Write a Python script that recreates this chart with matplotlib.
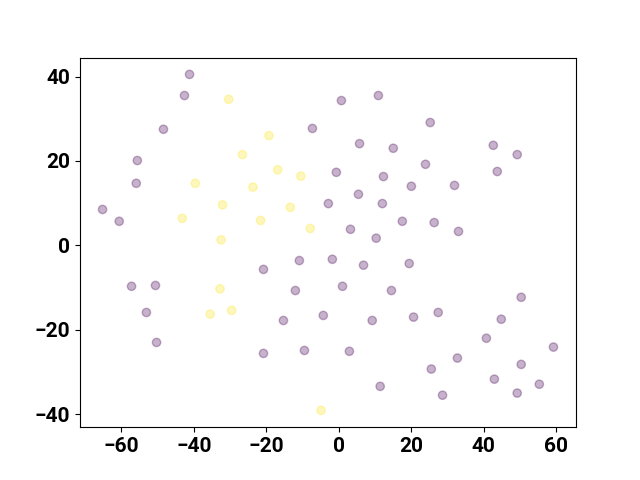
import numpy as np
import matplotlib
matplotlib.use('Agg')
import matplotlib.pyplot as plt

# cluster 0 (purple)
x0 = [-65.2, -60.6, -55.6, -55.9, -48.4, -42.6, -41.2, -57.2, -50.6, -53.1,
      -50.3, -20.8, -20.8, -15.3, -10.9, -12.0, -9.5, -4.3, -1.8, 1.0,
      2.9, -7.3, 0.7, 10.9, -2.9, -0.7, 3.2, 5.4, 5.7, 6.8,
      10.3, 12.3, 12.0, 15.0, 14.5, 9.2, 11.4, 17.5, 20.0, 19.4,
      20.6, 23.9, 25.2, 26.3, 27.4, 25.5, 28.6, 31.9, 33.0, 32.7,
      40.7, 42.6, 43.7, 44.8, 42.9, 49.2, 50.3, 50.3, 49.2, 55.3, 59.2]
y0 = [8.5, 5.7, 20.1, 14.7, 27.5, 35.5, 40.5, -9.7, -9.5, -15.9,
      -23.0, -5.7, -25.6, -17.8, -3.6, -10.7, -24.9, -16.6, -3.3, -9.7,
      -25.1, 27.7, 34.3, 35.5, 9.9, 17.3, 3.8, 12.1, 24.1, -4.7,
      1.7, 16.3, 9.9, 23.0, -10.7, -17.8, -33.4, 5.7, 14.0, -4.3,
      -17.0, 19.2, 29.1, 5.4, -15.9, -29.3, -35.5, 14.2, 3.3, -26.7,
      -22.0, 23.7, 17.5, -17.5, -31.7, 21.5, -12.3, -28.2, -35.0, -32.9, -24.1]

# cluster 1 (yellow)
x1 = [-30.4, -19.3, -26.6, -16.9, -10.5, -39.6, -23.7, -32.1, -13.4,
      -43.2, -21.6, -7.9, -32.5, -32.8, -35.5, -29.6, -4.9]
y1 = [34.6, 26.0, 21.5, 17.9, 16.4, 14.7, 13.8, 9.6, 9.0,
      6.4, 5.9, 4.0, 1.3, -10.3, -16.3, -15.4, -39.1]

x = np.array(x0 + x1)
y = np.array(y0 + y1)
labels = np.array([0] * len(x0) + [1] * len(x1))

plt.rcParams['font.family'] = ['Roboto', 'DejaVu Sans']
plt.rcParams['font.weight'] = 'bold'

fig, ax = plt.subplots(figsize=(6.4, 4.8), dpi=100)
ax.scatter(x, y, c=labels, cmap='viridis', alpha=0.3)
ax.tick_params(labelsize=15)
for lab in ax.get_xticklabels() + ax.get_yticklabels():
    lab.set_fontweight('bold')

fig.savefig('out.png', dpi=100)
